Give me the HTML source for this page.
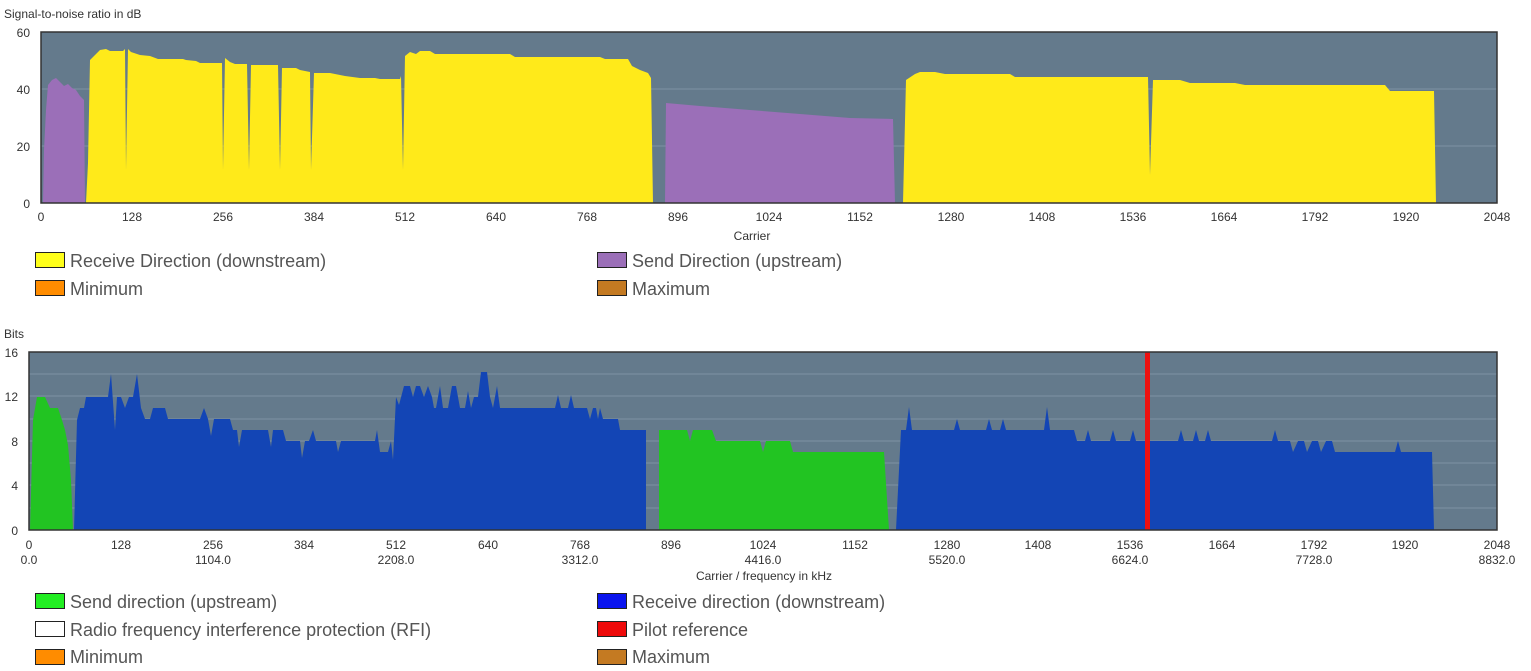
<!DOCTYPE html>
<html><head><meta charset="utf-8"><style>
body{margin:0;background:#fff;width:1531px;height:671px;overflow:hidden;font-family:"Liberation Sans",sans-serif}
svg{position:absolute;left:0;top:0}
.t{font-size:12px;fill:#333}
.l{font-size:18px;fill:#555}
</style></head><body>
<svg width="1531" height="671" xmlns="http://www.w3.org/2000/svg">
<text x="4" y="18" class="t">Signal-to-noise ratio in dB</text>
<rect x="41" y="32" width="1456" height="171" fill="#647a8c"/>
<g stroke="#7e93a3" stroke-width="1"><line x1="41" x2="1497" y1="89" y2="89"/><line x1="41" x2="1497" y1="146" y2="146"/></g>
<polygon fill="#9b6fb8" points="43,203 44,150 46,110 48,85 52,80 56,78 60,82 64,86 68,84 72,88 76,90 80,96 84,100 85,203"/>
<polygon fill="#ffea1a" points="86,203 88,163 90,60 95,55 100,50 106,49 110,51 123,51 125,49 126,170 128,49 131,52 140,55 150,56 158,59 183,59 186,60 196,61 200,63 220,63 222,63 223,170 225,58 230,62 235,64 247,64 249,170 251,65 278,65 280,170 282,68 296,68 300,70 310,72 311,170 314,73 330,73 340,75 345,76 360,78 375,78 380,79 400,79 401,76 403,170 405,56 410,52 416,54 420,51 430,51 435,54 510,54 515,57 600,57 605,59 628,59 632,66 640,70 648,73 651,78 653,203"/>
<polygon fill="#9b6fb8" points="665,203 666,103 700,106 750,110 800,114 850,118 893,119 895,203"/>
<polygon fill="#ffea1a" points="903,203 906,80 915,74 920,72 935,72 945,74 1010,74 1015,77 1148,77 1150,175 1153,80 1180,80 1190,83 1235,83 1245,85 1385,85 1390,91 1434,91 1436,203"/>
<rect x="41" y="32" width="1456" height="171" fill="none" stroke="#333" stroke-width="1.5"/>
<g class="t" text-anchor="end"><text x="30" y="37">60</text><text x="30" y="94">40</text><text x="30" y="151">20</text><text x="30" y="208">0</text></g>
<g class="t" text-anchor="middle">
<text x="41" y="221">0</text><text x="132" y="221">128</text><text x="223" y="221">256</text><text x="314" y="221">384</text><text x="405" y="221">512</text><text x="496" y="221">640</text><text x="587" y="221">768</text><text x="678" y="221">896</text><text x="769" y="221">1024</text><text x="860" y="221">1152</text><text x="951" y="221">1280</text><text x="1042" y="221">1408</text><text x="1133" y="221">1536</text><text x="1224" y="221">1664</text><text x="1315" y="221">1792</text><text x="1406" y="221">1920</text><text x="1497" y="221">2048</text>
<text x="752" y="240">Carrier</text></g>
<rect x="35.5" y="252.5" width="29" height="15" fill="#ffff1a" stroke="#222"/><text x="70" y="267" class="l">Receive Direction (downstream)</text>
<rect x="597.5" y="252.5" width="29" height="15" fill="#9b6fb8" stroke="#222"/><text x="632" y="267" class="l">Send Direction (upstream)</text>
<rect x="35.5" y="280.5" width="29" height="15" fill="#ff8c00" stroke="#222"/><text x="70" y="295" class="l">Minimum</text>
<rect x="597.5" y="280.5" width="29" height="15" fill="#c47a22" stroke="#222"/><text x="632" y="295" class="l">Maximum</text>

<text x="4" y="338" class="t">Bits</text>
<rect x="29" y="352" width="1468" height="178" fill="#647a8c"/>
<g stroke="#7e93a3" stroke-width="1">
<line x1="29" x2="1497" y1="374" y2="374"/><line x1="29" x2="1497" y1="396" y2="396"/><line x1="29" x2="1497" y1="419" y2="419"/><line x1="29" x2="1497" y1="441" y2="441"/><line x1="29" x2="1497" y1="463" y2="463"/><line x1="29" x2="1497" y1="485" y2="485"/><line x1="29" x2="1497" y1="508" y2="508"/></g>
<polygon fill="#22c422" points="30,530 33,420 37,397 45,397 50,408 58,408 62,420 65,430 68,445 71,480 73,530"/>
<polygon fill="#1345b5" points="74,530 77,420 80,408 84,408 86,397 108,397 111,374 115,430 117,397 121,397 125,408 129,397 133,397 137,374 141,408 145,419 150,419 153,408 165,408 168,419 200,419 204,408 208,419 211,436 214,419 230,419 233,430 237,430 239,447 242,430 268,430 271,447 273,430 283,430 286,441 300,441 302,458 305,441 309,441 313,430 316,441 336,441 338,452 341,441 375,441 377,430 380,452 388,452 391,441 393,460 396,397 399,405 404,386 410,386 413,397 416,386 420,386 424,397 428,386 432,397 434,408 436,408 440,386 443,408 448,408 452,386 456,386 460,408 465,408 468,391 471,408 474,397 478,397 481,372 487,372 490,397 493,408 497,386 500,408 555,408 558,395 561,408 568,408 571,395 574,408 587,408 590,419 593,408 596,408 598,419 600,408 603,419 618,419 620,430 646,430 646,530"/>
<polygon fill="#22c422" points="659,530 659,430 687,430 690,441 693,430 712,430 716,441 760,441 763,452 766,441 790,441 793,452 884,452 889,530"/>
<polygon fill="#1345b5" points="896,530 901,430 906,430 909,407 912,430 954,430 957,419 960,430 986,430 989,419 992,430 1000,430 1003,419 1006,430 1044,430 1047,407 1050,430 1074,430 1077,441 1085,441 1088,430 1091,441 1110,441 1113,430 1116,441 1130,441 1133,430 1136,441 1178,441 1181,430 1184,441 1193,441 1196,430 1199,441 1205,441 1208,430 1211,441 1272,441 1275,430 1278,441 1290,441 1293,452 1298,441 1304,441 1307,452 1312,441 1318,441 1321,452 1326,441 1332,441 1335,452 1345,452 1395,452 1398,441 1401,452 1432,452 1434,530"/>
<rect x="1145" y="352" width="5" height="178" fill="#ee1111"/>
<rect x="29" y="352" width="1468" height="178" fill="none" stroke="#333" stroke-width="1.5"/>
<g class="t" text-anchor="end"><text x="18" y="357">16</text><text x="18" y="401">12</text><text x="18" y="446">8</text><text x="18" y="490">4</text><text x="18" y="535">0</text></g>
<g class="t" text-anchor="middle">
<text x="29" y="549">0</text><text x="121" y="549">128</text><text x="213" y="549">256</text><text x="304" y="549">384</text><text x="396" y="549">512</text><text x="488" y="549">640</text><text x="580" y="549">768</text><text x="671" y="549">896</text><text x="763" y="549">1024</text><text x="855" y="549">1152</text><text x="947" y="549">1280</text><text x="1038" y="549">1408</text><text x="1130" y="549">1536</text><text x="1222" y="549">1664</text><text x="1314" y="549">1792</text><text x="1405" y="549">1920</text><text x="1497" y="549">2048</text>
<text x="29" y="564">0.0</text><text x="213" y="564">1104.0</text><text x="396" y="564">2208.0</text><text x="580" y="564">3312.0</text><text x="763" y="564">4416.0</text><text x="947" y="564">5520.0</text><text x="1130" y="564">6624.0</text><text x="1314" y="564">7728.0</text><text x="1497" y="564">8832.0</text>
<text x="764" y="580">Carrier / frequency in kHz</text></g>
<rect x="35.5" y="593.5" width="29" height="15" fill="#22ee22" stroke="#222"/><text x="70" y="608" class="l">Send direction (upstream)</text>
<rect x="597.5" y="593.5" width="29" height="15" fill="#0a14ee" stroke="#222"/><text x="632" y="608" class="l">Receive direction (downstream)</text>
<rect x="35.5" y="621.5" width="29" height="15" fill="#fff" stroke="#222"/><text x="70" y="636" class="l">Radio frequency interference protection (RFI)</text>
<rect x="597.5" y="621.5" width="29" height="15" fill="#ee0a0a" stroke="#222"/><text x="632" y="636" class="l">Pilot reference</text>
<rect x="35.5" y="649.5" width="29" height="15" fill="#ff8c00" stroke="#222"/><text x="70" y="663" class="l">Minimum</text>
<rect x="597.5" y="649.5" width="29" height="15" fill="#c47a22" stroke="#222"/><text x="632" y="663" class="l">Maximum</text>
</svg>
</body></html>
